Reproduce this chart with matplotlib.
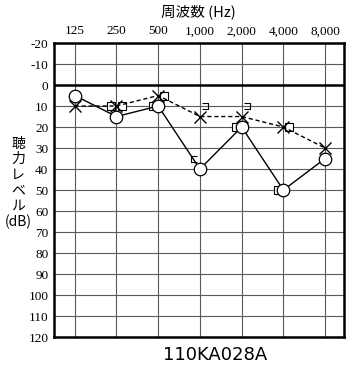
import numpy as np
import matplotlib
matplotlib.use('Agg')
import matplotlib.pyplot as plt
from matplotlib.path import Path

plt.rcParams['font.family'] = ['Liberation Serif', 'Noto Sans CJK JP']

# 周波数と閾値 (dB)
freqs = ['125', '250', '500', '1,000', '2,000', '4,000', '8,000']
right_air = [5, 15, 10, 40, 20, 50, 35]      # ○
left_air = [10, 10, 5, 15, 15, 20, 30]       # ×
right_bone_idx = [1, 2, 4, 5]                # □ (左側)
right_bone = [10, 10, 20, 50]
left_bone_idx = [1, 2, 5]                    # □ (右側)
left_bone = [10, 5, 20]
right_brk_idx = [3]                          # [
right_brk = [35]
left_brk_idx = [3, 4]                        # ]
left_brk = [10, 10]
yticks = list(range(-20, 121, 10))

x = np.arange(len(freqs))

fig = plt.figure(figsize=(3.52, 3.66), dpi=100)
ax = fig.add_axes([0.153, 0.079, 0.824, 0.8035])

for xi in x:
    ax.axvline(xi, color='#5a5a5a', lw=0.8, zorder=1)
for yv in yticks:
    ax.axhline(yv, color='#5a5a5a', lw=0.8, zorder=1)
ax.axhline(0, color='black', lw=1.8, zorder=2)

ax.plot(x, right_air, color='black', lw=1.0, marker='o', ms=9,
        mfc='white', mec='black', mew=0.9, zorder=4)
ax.plot(x, left_air, color='black', lw=1.0, ls=(0, (3, 2)), marker='x',
        ms=8, mec='black', mew=1.0, zorder=4)

off = 0.13
ax.plot(np.array(right_bone_idx) - off, right_bone, ls='none', marker='s',
        ms=5.5, mfc='white', mec='black', mew=0.8, zorder=3)
ax.plot(np.array(left_bone_idx) + off, left_bone, ls='none', marker='s',
        ms=5.5, mfc='white', mec='black', mew=0.8, zorder=3)

lb = Path([(-1, 1), (1, 1), (1, -1), (-1, -1)],
          [Path.MOVETO, Path.LINETO, Path.LINETO, Path.LINETO])
rb = Path([(1, 1), (-1, 1), (-1, -1), (1, -1)],
          [Path.MOVETO, Path.LINETO, Path.LINETO, Path.LINETO])
ax.plot(np.array(right_brk_idx) - off, right_brk, ls='none', marker=rb,
        ms=5, mfc='none', mec='black', mew=0.8, zorder=3)
ax.plot(np.array(left_brk_idx) + off, left_brk, ls='none', marker=lb,
        ms=5, mfc='none', mec='black', mew=0.8, zorder=3)

ax.set_xlim(-0.5, 6.45)
ax.set_ylim(120, -20)
ax.set_yticks(yticks)
ax.set_yticklabels([str(v) for v in yticks], fontsize=9.5)
ax.set_xticks(x)
ax.set_xticklabels(freqs, fontsize=9.5)
ax.xaxis.tick_top()
ax.tick_params(length=0, pad=4)
for s in ax.spines.values():
    s.set_linewidth(1.8)

fig.text(0.563, 0.967, '周波数 (Hz)', ha='center', va='center', fontsize=10.5,
         family=['Noto Sans CJK JP'])
fig.text(0.052, 0.50, '聴\n力\nレ\nベ\nル\n(dB)', ha='center', va='center',
         fontsize=10, linespacing=1.15, family=['Noto Sans CJK JP'])
fig.text(0.61, 0.03, '110KA028A', ha='center', va='center', fontsize=13,
         family=['DejaVu Sans'])

fig.savefig('out.png', dpi=100)
